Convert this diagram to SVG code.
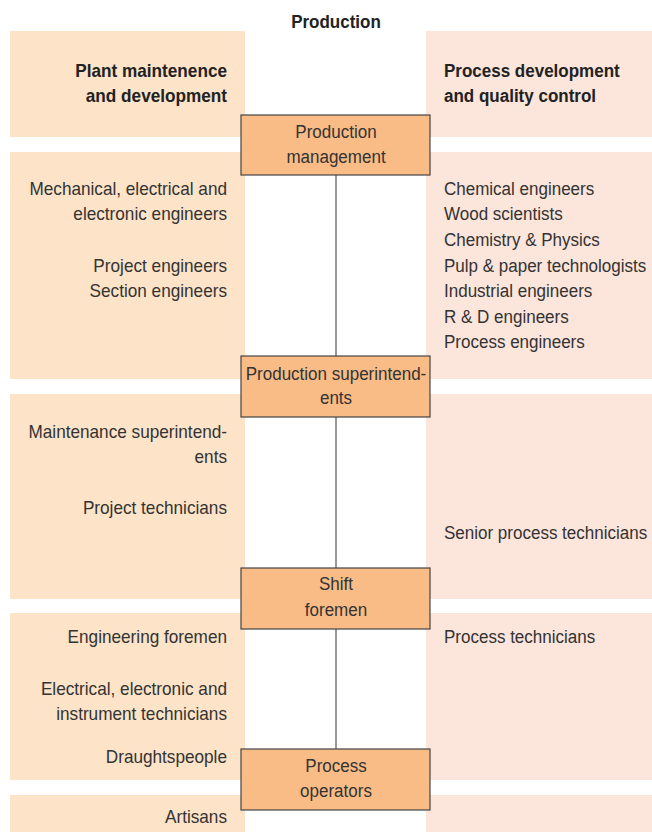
<svg xmlns="http://www.w3.org/2000/svg" width="652" height="832" viewBox="0 0 652 832">
  <style>
    .lp { fill: #FDE3C8; }
    .rp { fill: #FCE5DB; }
    .box { fill: #F9BC87; stroke: #444; stroke-width: 1.2; }
    .t { font-family: "Liberation Sans", Arial, sans-serif; font-size: 18px; fill: #333; }
    .b { font-weight: bold; fill: #222; }
    .r { text-anchor: end; }
    .c { text-anchor: middle; }
    .link { stroke: #555; stroke-width: 1.2; fill: none; }
  </style>
  <rect width="652" height="832" fill="#fff"/>

  <!-- column panels -->
  <g id="panels">
    <rect class="lp" x="10" y="31" width="235" height="106"/>
    <rect class="lp" x="10" y="152" width="235" height="227"/>
    <rect class="lp" x="10" y="394" width="235" height="205"/>
    <rect class="lp" x="10" y="613" width="235" height="167"/>
    <rect class="lp" x="10" y="795" width="235" height="37"/>
    <rect class="rp" x="426" y="31" width="226" height="106"/>
    <rect class="rp" x="426" y="152" width="226" height="227"/>
    <rect class="rp" x="426" y="394" width="226" height="205"/>
    <rect class="rp" x="426" y="613" width="226" height="167"/>
    <rect class="rp" x="426" y="795" width="226" height="37"/>
  </g>

  <!-- condensed lettering: text is narrowed horizontally around its anchor -->
  <g transform="translate(336 0) scale(0.945 1)">
    <text class="t b c" x="0" y="28">Production</text>
  </g>

  <g id="left-column" transform="translate(227 0) scale(0.955 1)">
    <text class="t b r" x="0" y="77">Plant maintenence</text>
    <text class="t b r" x="0" y="102">and development</text>
    <text class="t r" x="0" y="195">Mechanical, electrical and</text>
    <text class="t r" x="0" y="220">electronic engineers</text>
    <text class="t r" x="0" y="272">Project engineers</text>
    <text class="t r" x="0" y="297">Section engineers</text>
    <text class="t r" x="0" y="438">Maintenance superintend-</text>
    <text class="t r" x="0" y="463">ents</text>
    <text class="t r" x="0" y="514">Project technicians</text>
    <text class="t r" x="0" y="643">Engineering foremen</text>
    <text class="t r" x="0" y="695">Electrical, electronic and</text>
    <text class="t r" x="0" y="720">instrument technicians</text>
    <text class="t r" x="0" y="763">Draughtspeople</text>
    <text class="t r" x="0" y="823">Artisans</text>
  </g>

  <g id="right-column" transform="translate(444 0) scale(0.945 1)">
    <text class="t b" x="0" y="77">Process development</text>
    <text class="t b" x="0" y="102">and quality control</text>
    <text class="t" x="0" y="195">Chemical engineers</text>
    <text class="t" x="0" y="220">Wood scientists</text>
    <text class="t" x="0" y="246">Chemistry &amp; Physics</text>
    <text class="t" x="0" y="272">Pulp &amp; paper technologists</text>
    <text class="t" x="0" y="297">Industrial engineers</text>
    <text class="t" x="0" y="323">R &amp; D engineers</text>
    <text class="t" x="0" y="348">Process engineers</text>
    <text class="t" x="0" y="539">Senior process technicians</text>
    <text class="t" x="0" y="643">Process technicians</text>
  </g>

  <g id="connectors">
    <line class="link" x1="336" y1="175" x2="336" y2="356"/>
    <line class="link" x1="336" y1="417" x2="336" y2="568"/>
    <line class="link" x1="336" y1="629" x2="336" y2="749"/>
  </g>

  <g id="production-management">
    <rect class="box" x="241" y="115" width="189" height="60"/>
    <g transform="translate(336 0) scale(0.945 1)">
      <text class="t c" x="0" y="138">Production</text>
      <text class="t c" x="0" y="163">management</text>
    </g>
  </g>
  <g id="production-superintendents">
    <rect class="box" x="241" y="356" width="189" height="61"/>
    <g transform="translate(336 0) scale(0.945 1)">
      <text class="t c" x="0" y="380">Production superintend-</text>
      <text class="t c" x="0" y="404">ents</text>
    </g>
  </g>
  <g id="shift-foremen">
    <rect class="box" x="241" y="568" width="189" height="61"/>
    <g transform="translate(336 0) scale(0.945 1)">
      <text class="t c" x="0" y="590">Shift</text>
      <text class="t c" x="0" y="616">foremen</text>
    </g>
  </g>
  <g id="process-operators">
    <rect class="box" x="241" y="749" width="189" height="61"/>
    <g transform="translate(336 0) scale(0.945 1)">
      <text class="t c" x="0" y="772">Process</text>
      <text class="t c" x="0" y="797">operators</text>
    </g>
  </g>
</svg>
